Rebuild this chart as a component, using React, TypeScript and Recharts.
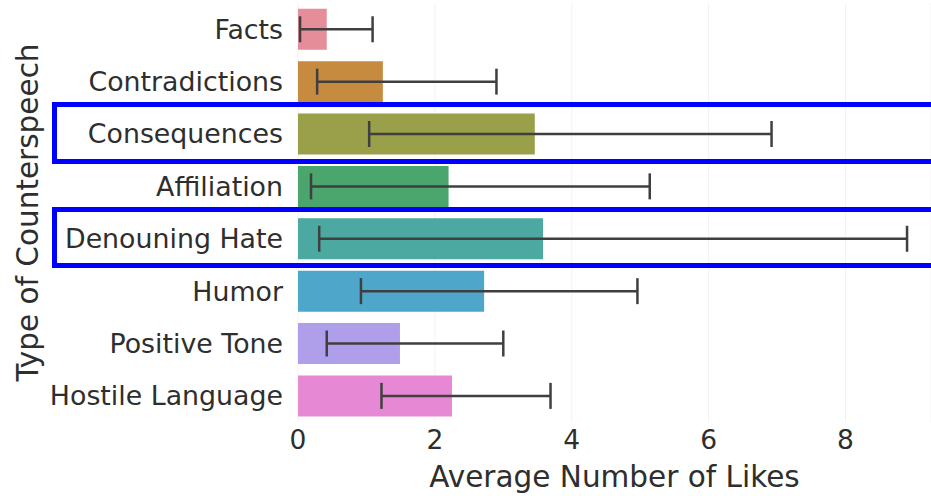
import { Bar, BarChart, CartesianGrid, Cell, ErrorBar, Label, XAxis, YAxis } from "recharts";

const categories = [
  "Facts",
  "Contradictions",
  "Consequences",
  "Affiliation",
  "Denouning Hate",
  "Humor",
  "Positive Tone",
  "Hostile Language",
];
const meanLikes = [0.42, 1.24, 3.46, 2.2, 3.58, 2.72, 1.49, 2.25];
const ciLow = [0.03, 0.28, 1.04, 0.19, 0.31, 0.92, 0.42, 1.22];
const ciHigh = [1.09, 2.9, 6.92, 5.14, 8.9, 4.96, 3.0, 3.69];
const barColors = ["#e68d9a", "#c78b3f", "#9aa04a", "#4aa66c", "#4ba9a1", "#4ea6ca", "#af9ee9", "#e788d4"];
const xTicks = [0, 2, 4, 6, 8];
const highlighted = ["Consequences", "Denouning Hate"];

const W = 931;
const H = 496;
const TOP = 3;
const X_AXIS_H = 74;
const Y_AXIS_W = 298;
const BAND = (H - TOP - X_AXIS_H) / categories.length;
const FONT = "'DejaVu Sans', sans-serif";
const INK = "#2e2e2e";

const data = categories.map((name, i) => ({
  name,
  likes: meanLikes[i],
  err: [meanLikes[i] - ciLow[i], ciHigh[i] - meanLikes[i]],
}));

export default function App() {
  return (
    <div style={{ position: "relative", width: W, height: H, overflow: "hidden", background: "#fff" }}>
      <style>{"body{margin:0}"}</style>
      <BarChart
        width={W}
        height={H}
        data={data}
        layout="vertical"
        margin={{ top: TOP, right: 0, bottom: 0, left: 0 }}
        barCategoryGap="11%"
      >
        <CartesianGrid horizontal={false} stroke="#f2f2f2" />
        <XAxis
          type="number"
          domain={[0, 9.25]}
          ticks={xTicks}
          height={X_AXIS_H}
          axisLine={false}
          tickLine={false}
          tickSize={0}
          tickMargin={8}
          tick={{ fill: INK, fontSize: 26.5, fontFamily: FONT }}
        >
          <Label
            value="Average Number of Likes"
            position="insideBottom"
            offset={9}
            style={{ fill: INK, fontSize: 29.5, fontFamily: FONT }}
          />
        </XAxis>
        <YAxis
          type="category"
          dataKey="name"
          width={Y_AXIS_W}
          axisLine={false}
          tickLine={false}
          tickSize={0}
          tickMargin={15}
          tick={{ fill: INK, fontSize: 26.8, fontFamily: FONT }}
        >
          <Label
            content={({ viewBox }: any) => {
              const cy = viewBox.y + viewBox.height / 2;
              return (
                <text
                  x={28}
                  y={cy}
                  transform={`rotate(-90 28 ${cy})`}
                  textAnchor="middle"
                  dominantBaseline="central"
                  fill={INK}
                  fontSize={29.5}
                  fontFamily={FONT}
                >
                  Type of Counterspeech
                </text>
              );
            }}
          />
        </YAxis>
        <Bar dataKey="likes" isAnimationActive={false}>
          {data.map((d, i) => (
            <Cell key={d.name} fill={barColors[i]} />
          ))}
          <ErrorBar dataKey="err" direction="x" width={13} stroke="#3f3f3f" strokeWidth={2.5} isAnimationActive={false} />
        </Bar>
      </BarChart>
      {highlighted.map((name) => {
        const idx = categories.indexOf(name);
        return (
          <div
            key={name}
            style={{
              position: "absolute",
              left: 52,
              top: TOP + idx * BAND - 5.5,
              width: W,
              height: BAND + 9,
              border: "5.5px solid #0000ff",
              boxSizing: "border-box",
              pointerEvents: "none",
            }}
          />
        );
      })}
    </div>
  );
}
